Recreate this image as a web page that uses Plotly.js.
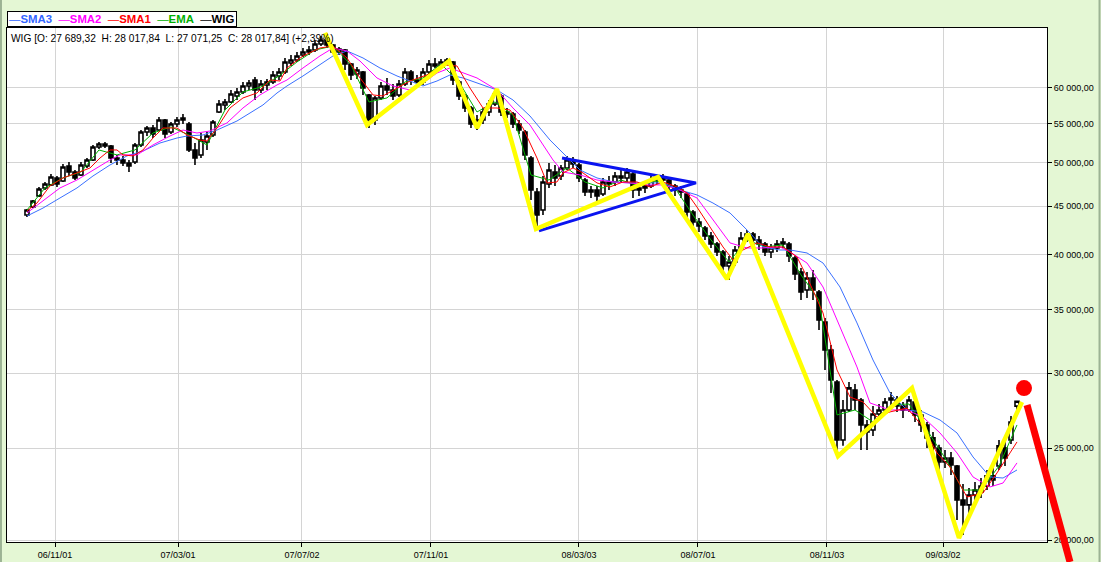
<!DOCTYPE html>
<html>
<head>
<meta charset="utf-8">
<script src="https://cdn.plot.ly/plotly-3.0.1.min.js"></script>
<style>
html,body{margin:0;padding:0;background:#E4F7D4;}
#chart{width:1101px;height:562px;}
</style>
</head>
<body>
<div id="chart"></div>
<script>
// ---- candle data (session index, OHLC) ----
const candleIndex = Array.from({length:166}, (_, i) => i);
const openVals = [44050,44910,46140,47040,47390,48200,47850,49620,48900,48550,49620,50350,51970,52350,52090,50590,50350,49980,50100,52220,
53890,54420,54150,55490,53890,54950,55490,54950,51590,50970,52600,53500,56580,57550,57970,58820,59400,60270,61150,59680,
60420,60860,61750,62350,63730,64200,64980,65460,65770,66740,67390,66580,65460,65770,63580,62050,62350,58970,55490,58540,
60270,59680,58970,60560,62350,61150,60860,62350,63580,63270,63890,63890,60860,58820,57130,54950,55490,56580,57690,58820,
56580,56310,54950,53890,50590,46580,44590,47500,48900,48430,49380,50350,49740,47960,46580,46810,46360,47730,47730,48430,
48200,48670,46810,47040,47270,47960,48200,47960,47270,46810,46360,44370,43310,42680,41860,41060,40270,38920,39300,40660,
41660,42070,41460,41060,40270,40660,41060,41060,39680,38360,36710,37800,36540,33970,31730,29360,25500,27430,28790,28100,
26450,26130,27160,27430,28100,28100,27700,27430,27970,27100,26450,25630,25010,24180,24410,23940,22040,21780,22310,22480,
22800,23370,23940,25010,25500,27689.32];
const highVals = [44690,45680,47160,47730,48670,48430,49860,50100,49140,50100,50590,52220,52600,52600,52220,50970,50850,50350,52470,54150,
54690,54820,55900,55620,55220,55900,56310,55220,52470,53760,53890,55490,58250,58390,59680,59970,60860,61150,61600,61150,
61300,62500,62960,64510,64980,65460,66090,66420,67390,68060,68560,66740,66260,65930,63730,63120,62500,59110,58820,60860,
61450,60560,61150,62960,62650,61900,62960,64200,64510,64350,64510,64040,61150,59110,57410,56170,57130,58250,59680,59110,
57130,56580,55490,54150,50850,47040,48430,49980,49740,49740,50850,50710,49980,48200,47270,47270,48200,48430,48900,49140,
49380,48900,47500,47620,48430,48550,48670,48200,47500,47270,46580,44590,43730,42900,42270,41260,40460,39880,40860,42270,
42480,42270,41860,41260,41060,41460,41660,41260,39880,38720,38360,38540,36710,34300,32120,29500,28100,29360,29220,28240,
26770,27700,27830,28240,28660,28380,27970,28380,28240,27430,26640,26000,25200,24890,24770,24000,22920,22690,23030,23250,
23710,23820,25500,25750,27030,28017.84];
const lowVals = [43840,44800,46020,46810,47270,47160,47730,48430,47960,48430,49380,50230,51710,51840,49980,49740,49620,48900,49860,51970,
53370,53110,54020,53110,53630,54560,54950,51340,49740,50590,51590,53240,56440,56850,57830,58250,59110,59680,58250,59250,
59680,60560,61150,62050,63270,63890,64670,64980,65460,66420,66090,65140,64980,62650,61150,61300,58970,54420,54820,58250,
58970,58250,58680,60270,60420,59970,60420,62050,62960,62960,63430,60420,58250,56580,54420,54150,54950,56030,57410,56030,
55760,54420,53630,50350,45680,42680,44050,47040,47270,47960,49140,49380,47730,46140,45910,45240,46140,46810,47270,47730,
47730,45910,46140,46470,47040,47500,47500,46810,46140,45910,43730,42680,42270,41460,40660,39880,38360,37620,38920,40460,
41260,40960,40460,39880,39680,40270,40660,39300,37620,35830,36010,35830,33310,30230,28590,24520,25140,27300,27430,24890,
24890,25750,26770,27160,27430,27300,26900,27300,26640,26000,25010,24590,23710,23820,23420,21000,20250,21250,21940,22150,
22580,22800,23710,23940,25260,27071.25];
const closeVals = [44590,45570,46930,47500,48310,47500,49500,48900,48200,49740,50350,51970,52350,52090,50590,50350,49980,49620,52220,53890,
54420,53630,55490,53630,54950,55490,55760,51590,50590,52850,53370,55220,57690,57970,59110,59400,60270,60710,59680,60560,
60860,61900,62350,63890,64200,64830,65460,65770,66740,67390,66580,65460,65930,63580,61900,62650,59970,55490,58540,60270,
59680,58820,60560,62350,61150,60860,62350,63580,63270,63890,64200,61150,58820,57130,54950,55490,56580,57690,59110,56580,
56310,54950,54150,50970,46810,44050,47730,49140,48200,49380,50350,49860,48200,46580,46810,46140,47730,47500,48430,48200,
48900,46810,47040,47270,47960,48200,47960,47270,46810,46580,44370,43310,42900,41860,41060,40270,38920,39300,40460,41660,
42070,41460,41060,40270,40660,41060,41260,39880,38170,36540,37800,36710,34130,31730,29500,25500,27430,28940,28100,26450,
26000,27160,27430,27970,28240,27700,27430,28100,27100,26450,25630,25010,24180,24410,24000,22040,21780,22310,22580,22800,
23370,23140,25140,24410,26640,28017.84];

// ---- moving averages ----
const sma3X = [0,2.67,5.5,8.33,11,13.83,16.67,19.33,22.17,25,26.67,29.33,31.67,35,37.17,39.33,41.67,43.33,46,48.83,51,53.33,56,58.83,61.67,63.83,66,68.33,70.5,72.67,75,78.33,81,83.83,85.5,87.17,89.33,92.17,95,97.67,100.5,103.33,106,108.83,111.67,114.33,117.17,120,122.67,125.5,127.17,130,132.67,135.5,138.33,141,143.83,146.67,149.33,152.17,155,157.67,160.5,162.67,165];
const sma3Y = [43940,44800,45910,47040,48430,49740,50850,51460,52470,53110,53370,53500,54150,55350,56440,57550,59250,60270,61750,63430,64830,65620,64510,62960,61750,61000,60270,61000,61900,61450,60710,59680,58250,56030,54420,52850,51210,49140,48200,47730,47620,47620,47620,46810,46250,45350,44270,42480,40760,40460,40460,40170,39200,36980,33890,30970,28590,27430,27300,26770,25940,24470,23310,23250,23710];
const sma2X = [0,2.67,5.5,8.33,11,13.83,15.5,18.33,21,23.83,26,28.33,30.5,33.33,36,38.83,41.67,43.33,46,48.83,51,53.33,55.5,58.33,61,63.83,66,68.33,70.5,72.67,75,78.33,81,83.83,85.5,87.67,89.33,92.17,95,97.67,100.5,103.33,106,108.83,111.67,114.33,117.17,120,122.67,125.5,127.17,130,132.67,135.5,138.33,140.5,143.83,146.67,149.33,152.17,155,157.67,160.5,162.67,165];
const sma2Y = [44270,45570,47040,47960,49140,50350,50970,50970,52220,53370,54150,53760,54020,55090,57130,58970,60420,61150,62960,64830,66090,65620,64040,61450,60270,59680,60710,62200,62960,62200,61450,59680,57130,54820,52850,50350,48900,48550,47960,47730,47620,47390,47390,46810,45910,43520,41160,40660,40660,40760,40270,39200,36980,33560,30450,27900,27430,27430,26960,25940,24710,23310,22750,22970,24120];
const sma1X = [0,1.67,3.83,6,8.33,10.5,12.17,13.83,15,16,17.67,19.33,21,22.67,25,26.67,28.83,30,31.67,33.83,36,38.33,40.5,42.17,43.33,46,48.83,51,53.33,55.5,57.67,59.33,61.67,63.83,66.67,69.33,71.67,73.83,76,78.33,80.5,82.67,85,86.67,88.33,89.33,91,92.67,95,97.17,99.33,101.67,103.83,106,108.33,110,111.67,113.83,116,117.67,119.33,121.67,123.83,126,128.33,130,132.67,135,137.17,139.33,141.67,143.83,146.67,149.33,151.67,153.83,156.67,159.33,161.67,163.83,165];
const sma1Y = [44480,45350,47270,48200,48790,49380,50590,51590,51590,50970,50850,51590,53110,54420,54420,53500,52850,52730,54420,57130,58540,59250,61150,61000,62960,64830,66090,66420,64510,61450,58970,58820,59970,61000,61900,63430,63270,59970,57130,57130,56850,54420,50590,47620,47730,48790,49380,48790,47620,47160,47730,47730,47160,47730,47160,46470,44910,42790,40760,39490,40460,41160,40760,40760,39780,37890,34720,30230,28310,27970,26960,27300,27560,26320,24710,23880,22200,22420,23540,24710,25380];
const emaX = Array.from({length:56}, (_, i) => i * 3);
const emaY = [44590,47040,48200,48900,51590,50970,51590,53760,54560,53500,52220,56850,59400,60120,61750,63890,65770,66420,63430,57970,
58540,60860,61450,63580,60860,56580,57970,56170,48550,47960,49380,47730,47040,47960,47270,47850,47040,44050,41460,39300,
41460,40760,40960,38080,35830,27100,27430,26640,27770,27830,26130,24410,22580,22580,23940,26450];

// ---- drawn analysis: zigzag, triangle, target point ----
const zigzagX = [49.67,56.67,70.33,75,78.33,84.83,105.17,116.67,120.17,135.17,147.5,155.33,165.83];
const zigzagY = [68560,54820,64040,54420,59820,42580,48310,37710,42070,24520,28930,20100,27970];
const triangleX = [89.17,111.5,85.33];
const triangleY = [50590,47620,42380];
const targetX = [166.17];
const targetY = [28930];

// ---- axes ----
const xTickPos = [4.67,25.17,45.83,67.33,92,111.83,133.33,152.67];
const xTickLabels = ['06/11/01','07/03/01','07/07/02','07/11/01','08/03/03','08/07/01','08/11/03','09/03/02'];
const yTickVals = [20000,25000,30000,35000,40000,45000,50000,55000,60000];
const yTickLabels = ['20 000,00','25 000,00','30 000,00','35 000,00','40 000,00','45 000,00','50 000,00','55 000,00','60 000,00'];

const nb = '\u00A0';
const headerText = 'WIG [O: 27 689,32' + nb+nb + 'H: 28 017,84' + nb+nb + 'L: 27 071,25' + nb+nb + 'C: 28 017,84] (+2,39%)';

const traces = [
  {type:'candlestick', x:candleIndex, open:openVals, high:highVals, low:lowVals, close:closeVals,
   increasing:{line:{color:'#000000', width:1.6}, fillcolor:'#ffffff'},
   decreasing:{line:{color:'#000000', width:1.6}, fillcolor:'#000000'},
   whiskerwidth:0, showlegend:false, hoverinfo:'skip'},
  {type:'scatter', mode:'lines', x:emaX, y:emaY, line:{color:'#00b000', width:1}, showlegend:false, hoverinfo:'skip'},
  {type:'scatter', mode:'lines', x:sma3X, y:sma3Y, line:{color:'#3a70ff', width:1}, showlegend:false, hoverinfo:'skip'},
  {type:'scatter', mode:'lines', x:sma2X, y:sma2Y, line:{color:'#ff00ff', width:1}, showlegend:false, hoverinfo:'skip'},
  {type:'scatter', mode:'lines', x:sma1X, y:sma1Y, line:{color:'#ff0000', width:1}, showlegend:false, hoverinfo:'skip'},
  {type:'scatter', mode:'lines', x:triangleX, y:triangleY, line:{color:'#0a14f0', width:3}, showlegend:false, hoverinfo:'skip'},
  {type:'scatter', mode:'lines', x:zigzagX, y:zigzagY, line:{color:'#ffff00', width:4.5}, showlegend:false, hoverinfo:'skip'},
  {type:'scatter', mode:'markers', x:targetX, y:targetY, marker:{color:'#ff0000', size:16}, showlegend:false, hoverinfo:'skip', cliponaxis:false}
];

const legendText =
  '<span style="color:#3366ff">—<b>SMA3</b></span>' + nb + nb +
  '<span style="color:#ff00ff">—<b>SMA2</b></span>' + nb + nb +
  '<span style="color:#ff0000">—<b>SMA1</b></span>' + nb + nb +
  '<span style="color:#00b000">—<b>EMA</b></span>' + nb + nb +
  '<span style="color:#000000">—<b>WIG</b></span>';

const layout = {
  width:1101, height:562,
  margin:{l:7, r:54, t:28, b:20},
  paper_bgcolor:'#E4F7D4',
  plot_bgcolor:'#ffffff',
  boxgap:0.05,
  font:{family:'Liberation Sans, Arial, sans-serif', size:10, color:'#000000'},
  showlegend:false,
  xaxis:{
    type:'linear', range:[-3.33,170], rangeslider:{visible:false},
    tickmode:'array', tickvals:xTickPos, ticktext:xTickLabels,
    ticks:'outside', ticklen:4, tickcolor:'#000000',
    showgrid:true, gridcolor:'#d4d4d4', gridwidth:1,
    showline:true, linecolor:'#000000', linewidth:1, mirror:true, zeroline:false,
    tickfont:{size:9, family:'Liberation Sans, Arial, sans-serif'}
  },
  yaxis:{
    type:'log', side:'right', range:[4.29892,4.84126],
    tickmode:'array', tickvals:yTickVals, ticktext:yTickLabels,
    ticks:'outside', ticklen:4, tickcolor:'#000000',
    showgrid:true, gridcolor:'#d4d4d4', gridwidth:1,
    showline:true, linecolor:'#000000', linewidth:1, mirror:true, zeroline:false,
    tickfont:{size:9, family:'Liberation Sans, Arial, sans-serif'}
  },
  shapes:[
    {type:'line', xref:'x domain', yref:'y domain', x0:0.9808, y0:0.2665, x1:1.0221, y1:-0.0389,
     line:{color:'#ff0000', width:7}, layer:'above'},
    {type:'line', xref:'paper', yref:'paper', x0:-0.0058, x1:-0.0058, y0:-0.04, y1:1.06,
     line:{color:'#9cb394', width:2}},
    {type:'line', xref:'paper', yref:'paper', x0:1.0505, x1:1.0505, y0:-0.04, y1:1.06,
     line:{color:'#9cb394', width:2}}
  ],
  annotations:[
    {xref:'paper', yref:'paper', x:0.002, y:0.9805, xanchor:'left', yanchor:'middle',
     text:headerText, showarrow:false, font:{size:10.2, color:'#000000'}},
    {xref:'paper', yref:'paper', x:0, y:1.0175, xanchor:'left', yanchor:'middle',
     text:legendText, showarrow:false, font:{size:11.4}, bgcolor:'#ffffff',
     bordercolor:'#000000', borderwidth:1, borderpad:1}
  ]
};

Plotly.newPlot('chart', traces, layout, {displayModeBar:false, staticPlot:true});
</script>
</body>
</html>
